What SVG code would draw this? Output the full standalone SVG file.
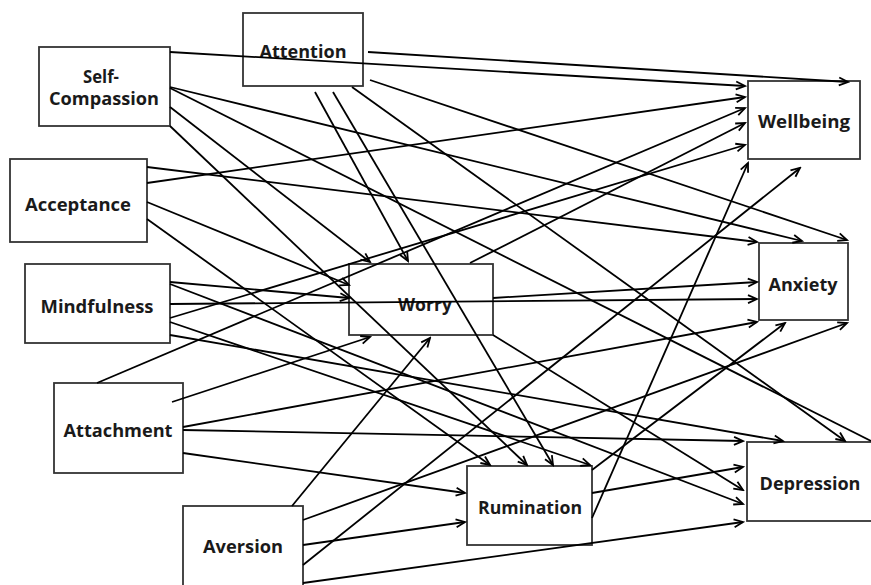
<svg xmlns="http://www.w3.org/2000/svg" width="871" height="585" viewBox="0 0 871 585">
<style>
.box{fill:#fff;stroke:#333;stroke-width:1.8}
.lbl{font-family:"Open Sans","Liberation Sans",sans-serif;font-weight:700;font-size:17px;fill:#1a1a1a;text-anchor:middle}
.c line{stroke:#000;stroke-width:1.8;marker-end:url(#ah)}
</style>
<defs>
<marker id="ah" markerUnits="userSpaceOnUse" markerWidth="12" markerHeight="12" refX="10" refY="5" orient="auto" viewBox="0 0 12 10">
<path d="M1,1 L10,5 L1,9" fill="none" stroke="#000" stroke-width="1.8"/>
</marker>
</defs>
<rect width="871" height="585" fill="#fff"/>
<g id="selfcompassion"><rect class="box" x="39" y="47" width="131" height="79"/><text class="lbl" x="101" y="83" textLength="36" lengthAdjust="spacingAndGlyphs">Self-</text><text class="lbl" x="104" y="105" textLength="110" lengthAdjust="spacingAndGlyphs">Compassion</text></g>
<g id="attention"><rect class="box" x="243" y="13" width="120" height="73"/><text class="lbl" x="303" y="58" textLength="87" lengthAdjust="spacingAndGlyphs">Attention</text></g>
<g id="acceptance"><rect class="box" x="10" y="159" width="137" height="83"/><text class="lbl" x="78" y="211" textLength="106" lengthAdjust="spacingAndGlyphs">Acceptance</text></g>
<g id="mindfulness"><rect class="box" x="25" y="264" width="145" height="79"/><text class="lbl" x="97" y="313" textLength="113" lengthAdjust="spacingAndGlyphs">Mindfulness</text></g>
<g id="attachment"><rect class="box" x="54" y="383" width="129" height="90"/><text class="lbl" x="118" y="437" textLength="109" lengthAdjust="spacingAndGlyphs">Attachment</text></g>
<g id="aversion"><rect class="box" x="183" y="506" width="120" height="85"/><text class="lbl" x="243" y="553" textLength="80" lengthAdjust="spacingAndGlyphs">Aversion</text></g>
<g id="worry"><rect class="box" x="349" y="264" width="144" height="71"/><text class="lbl" x="425" y="311" textLength="54" lengthAdjust="spacingAndGlyphs">Worry</text></g>
<g id="rumination"><rect class="box" x="467" y="466" width="125" height="79"/><text class="lbl" x="530" y="514" textLength="104" lengthAdjust="spacingAndGlyphs">Rumination</text></g>
<g id="wellbeing"><rect class="box" x="748" y="81" width="112" height="78"/><text class="lbl" x="804" y="128" textLength="92" lengthAdjust="spacingAndGlyphs">Wellbeing</text></g>
<g id="anxiety"><rect class="box" x="759" y="243" width="89" height="77"/><text class="lbl" x="803" y="291" textLength="69" lengthAdjust="spacingAndGlyphs">Anxiety</text></g>
<g id="depression"><rect class="box" x="747" y="442" width="130" height="79"/><text class="lbl" x="810" y="490" textLength="101" lengthAdjust="spacingAndGlyphs">Depression</text></g>
<g id="connectors" class="c">
<line x1="170" y1="52" x2="745" y2="86"/>
<line x1="170" y1="87" x2="802" y2="241"/>
<line x1="170" y1="88" x2="871" y2="441" style="marker-end:none"/>
<line x1="170" y1="107" x2="370" y2="262"/>
<line x1="170" y1="126" x2="527" y2="465"/>
<line x1="368" y1="52" x2="848" y2="82"/>
<line x1="370" y1="80" x2="847" y2="240"/>
<line x1="315" y1="92" x2="408" y2="261"/>
<line x1="333" y1="92" x2="553" y2="465"/>
<line x1="352" y1="87" x2="845" y2="441"/>
<line x1="147" y1="183" x2="745" y2="97"/>
<line x1="147" y1="167" x2="757" y2="242"/>
<line x1="147" y1="202" x2="349" y2="285"/>
<line x1="147" y1="219" x2="490" y2="465"/>
<line x1="170" y1="282" x2="349" y2="298"/>
<line x1="170" y1="304" x2="757" y2="299"/>
<line x1="170" y1="318" x2="745" y2="145"/>
<line x1="170" y1="322" x2="590" y2="465"/>
<line x1="170" y1="335" x2="783" y2="441"/>
<line x1="170" y1="284" x2="743" y2="504"/>
<line x1="97" y1="383" x2="745" y2="108"/>
<line x1="172" y1="402" x2="370" y2="337"/>
<line x1="183" y1="427" x2="757" y2="322"/>
<line x1="183" y1="430" x2="743" y2="441"/>
<line x1="183" y1="453" x2="465" y2="493"/>
<line x1="292" y1="506" x2="430" y2="338"/>
<line x1="303" y1="520" x2="847" y2="323"/>
<line x1="303" y1="545" x2="465" y2="522"/>
<line x1="303" y1="565" x2="800" y2="168"/>
<line x1="303" y1="583" x2="743" y2="522"/>
<line x1="470" y1="263" x2="745" y2="123"/>
<line x1="493" y1="298" x2="757" y2="282"/>
<line x1="493" y1="335" x2="743" y2="490"/>
<line x1="592" y1="518" x2="748" y2="163"/>
<line x1="592" y1="470" x2="785" y2="323"/>
<line x1="592" y1="493" x2="743" y2="467"/>
</g>
</svg>
